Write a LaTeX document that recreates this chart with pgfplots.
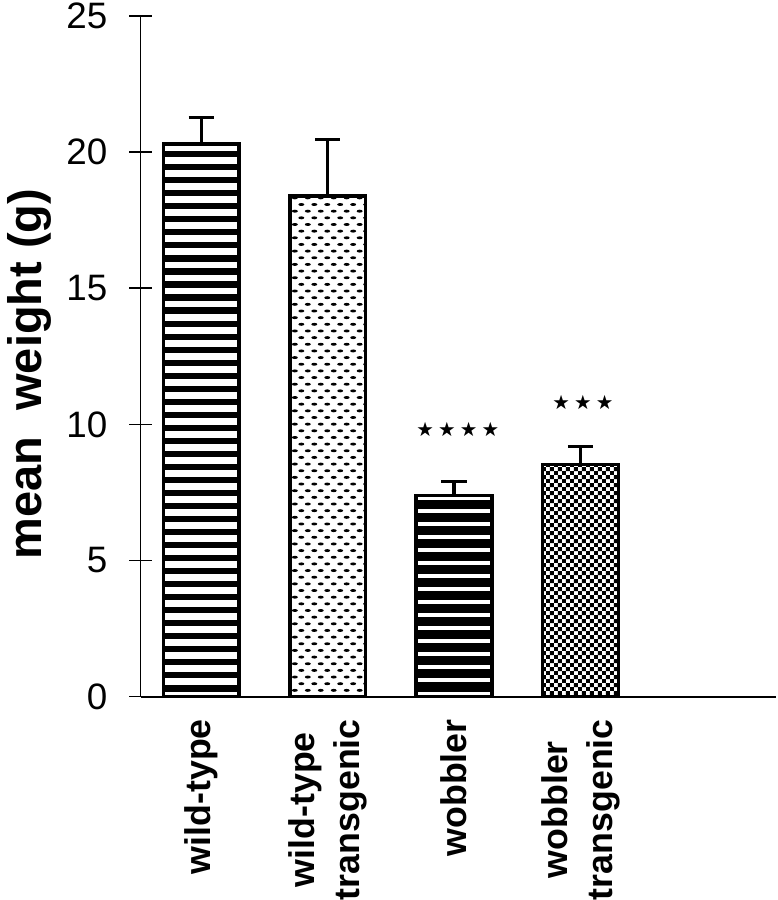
\documentclass[border=0pt]{standalone}
\usepackage{fontspec}
\setmainfont{Liberation Sans}
\newfontfamily\starfont{DejaVu Sans}
\usepackage{pgfplots}
\pgfplotsset{compat=1.18}
\usetikzlibrary{patterns}

% 1 px of the reference is about 0.2845pt here
\pgfdeclarepatternformonly{stripesA}{\pgfqpoint{-1pt}{-1pt}}{\pgfqpoint{5pt}{4.7pt}}{\pgfqpoint{4pt}{3.72pt}}{%
  \pgfpathrectangle{\pgfqpoint{-1pt}{0pt}}{\pgfqpoint{6pt}{1.75pt}}\pgfusepath{fill}}
\pgfdeclarepatternformonly{stripesC}{\pgfqpoint{-1pt}{-1pt}}{\pgfqpoint{5pt}{4.7pt}}{\pgfqpoint{4pt}{3.72pt}}{%
  \pgfpathrectangle{\pgfqpoint{-1pt}{0pt}}{\pgfqpoint{6pt}{2.65pt}}\pgfusepath{fill}}
\pgfdeclarepatternformonly{dashB}{\pgfqpoint{-1pt}{-1pt}}{\pgfqpoint{5pt}{5pt}}{\pgfqpoint{3.7pt}{3.8pt}}{%
  \pgfpathellipse{\pgfqpoint{0.925pt}{0.95pt}}{\pgfqpoint{0.85pt}{0pt}}{\pgfqpoint{0pt}{0.42pt}}%
  \pgfpathellipse{\pgfqpoint{2.775pt}{2.85pt}}{\pgfqpoint{0.85pt}{0pt}}{\pgfqpoint{0pt}{0.42pt}}%
  \pgfusepath{fill}}
\pgfdeclarepatternformonly{checkD}{\pgfqpoint{0pt}{0pt}}{\pgfqpoint{2.4pt}{2.4pt}}{\pgfqpoint{2.4pt}{2.4pt}}{%
  \pgfpathrectangle{\pgfqpoint{0pt}{0pt}}{\pgfqpoint{1.2pt}{1.2pt}}%
  \pgfpathrectangle{\pgfqpoint{1.2pt}{1.2pt}}{\pgfqpoint{1.2pt}{1.2pt}}%
  \pgfusepath{fill}}

\newcommand\stars[1]{{\starfont\fontsize{5.6pt}{5.6pt}\selectfont
  \foreach \i in {1,...,#1}{\ifnum\i>1 \hspace{1.2pt}\fi ★}}}

\pgfplotsset{
  errbar/.style={error bars/.cd, y dir=plus, y explicit,
    error bar style={line width=1pt, solid},
    error mark options={line width=1pt, mark size=3.6pt, rotate=90}},
  mybar/.style={ybar, bar width=0.6, bar shift=0pt, draw=black, line width=1pt},
}

\begin{document}
\begin{tikzpicture}
\begin{axis}[
  scale only axis, width=6.38cm, height=6.83cm,
  xmin=-0.481, xmax=4.55, ymin=0, ymax=25,
  axis x line*=bottom, axis y line*=left,
  axis line style={line width=0.55pt},
  clip=false,
  ytick={0,5,10,15,20,25},
  tick align=center, major tick length=0.23cm,
  ytick style={line width=0.45pt, black},
  xtick={0,1,2,3},
  xticklabels={wild-type, {wild-type\\[1.3pt]transgenic}, wobbler, {wobbler\\[1.3pt]transgenic}},
  xtick style={draw=none},
  x tick label style={rotate=90, anchor=east, align=center, inner sep=0pt,
    font=\fontsize{10.2pt}{11.6pt}\selectfont\bfseries},
  xticklabel shift=3pt,
  y tick label style={inner sep=0pt, font=\fontsize{10.5pt}{12pt}\selectfont},
  yticklabel shift=6pt,
  /pgf/number format/assume math mode=true,
  ylabel={mean\hspace{0.55em}weight (g)},
  ylabel style={font=\fontsize{13.4pt}{16pt}\selectfont\bfseries, inner sep=0pt,
    at={(rel axis cs:-0.174,0.474)}, anchor=center},
]
\addplot[mybar, pattern=stripesA, errbar] coordinates {(0,20.3) +- (0,0.97)};
\addplot[mybar, pattern=dashB, errbar] coordinates {(1,18.39) +- (0,2.07)};
\addplot[mybar, pattern=stripesC, errbar] coordinates {(2,7.39) +- (0,0.51)};
\addplot[mybar, pattern=checkD, errbar] coordinates {(3,8.53) +- (0,0.66)};
% significance stars
\addplot[draw=none, mark=none, nodes near coords={\stars{4}},
  every node near coord/.style={anchor=center, inner sep=0pt}] coordinates {(2.03,9.81)};
\addplot[draw=none, mark=none, nodes near coords={\stars{3}},
  every node near coord/.style={anchor=center, inner sep=0pt}] coordinates {(3.02,10.8)};
\path (rel axis cs:-0.221,-0.2943) rectangle (rel axis cs:1,1.0234);
\end{axis}
\end{tikzpicture}
\end{document}
